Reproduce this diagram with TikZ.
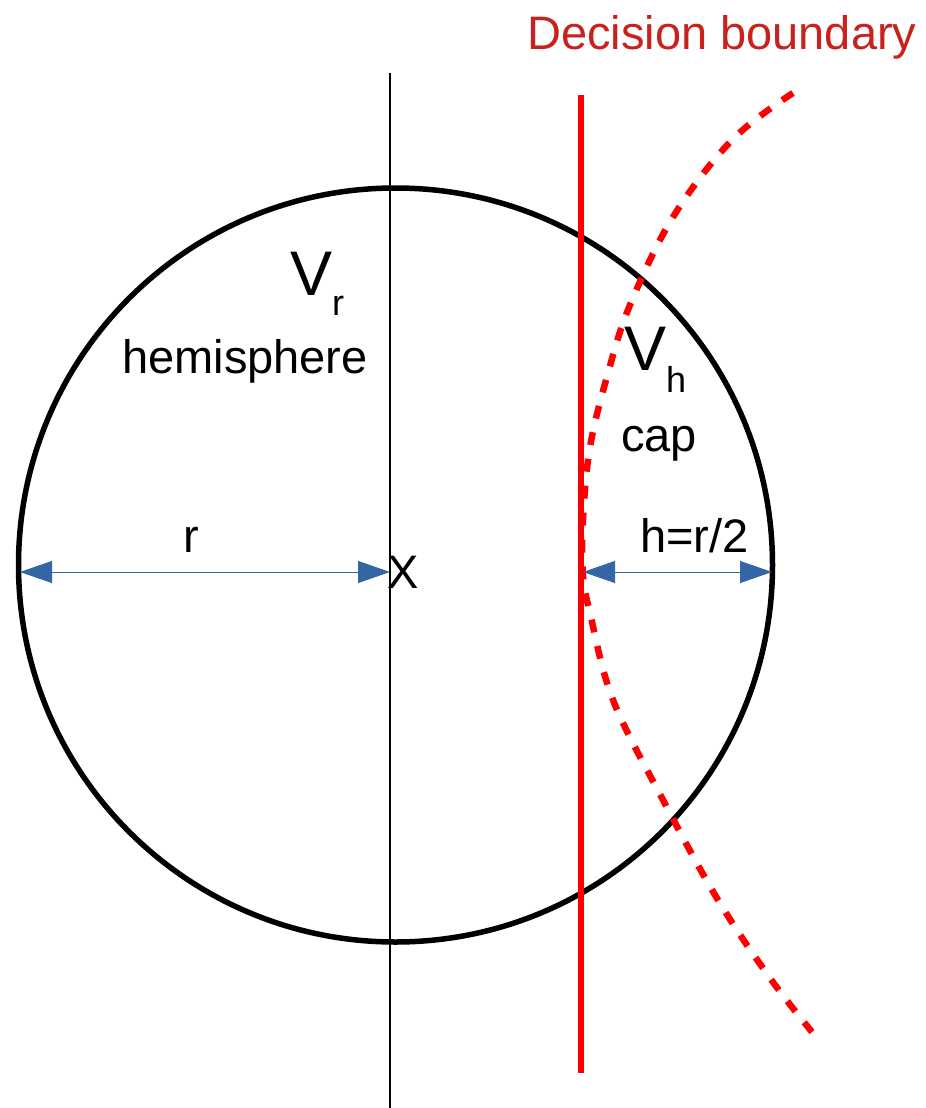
\documentclass[tikz,border=0pt]{standalone}
\usepackage{fontspec}
\setmainfont{Liberation Sans}
\usetikzlibrary{arrows.meta}
\definecolor{dred}{HTML}{C9211E}
\definecolor{lblue}{HTML}{3465A4}
\begin{document}
\begin{tikzpicture}[x=1pt,y=-1pt,
  lbl/.style={inner sep=0pt, anchor=base west, font=\fontsize{47}{56}\selectfont},
  dim/.style={draw=lblue, line width=1pt, {Triangle[length=32pt,width=22pt,fill=lblue]}-{Triangle[length=32pt,width=22pt,fill=lblue]}},
  bigv/.style={inner sep=0pt, anchor=base west, font=\fontsize{63}{70}\selectfont}]
\useasboundingbox (0,0) rectangle (926,1108);
% circle
\coordinate (O) at (395.5,565);
\draw[line width=5.5pt] (O) circle (377);
% vertical axis
\coordinate (axT) at (390,73);
\coordinate (axB) at (390,1108);
\draw[line width=1.6pt] (axT) -- (axB);
% decision boundary (straight)
\coordinate (dbT) at (581,95);
\coordinate (dbB) at (581,1073);
\draw[red, line width=6.5pt] (dbT) -- (dbB);
% curved boundary (dashed)
\draw[red, line width=6.5pt, dash pattern=on 13pt off 14pt]
  plot[smooth, tension=0.6] coordinates {(793,93) (732,140) (673,217) (630,305) (608,373) (590,447) (583,520) (583,575) (590,613) (613,700) (663,800) (718,900) (770,978) (812,1032)};
% dimension arrows
\coordinate (L) at (20,572);
\coordinate (Cx) at (390,572);
\coordinate (Hs) at (583,572);
\coordinate (R) at (772,572);
\draw[dim] (L) -- (Cx);
\draw[dim] (Hs) -- (R);
% labels
\node[lbl, text=dred] (title) at (527,49) {Decision boundary};
\node[bigv] (vr) at (290,295) {V\raisebox{-20pt}{\fontsize{36}{40}\selectfont r}};
\node[lbl] (hemi) at (122,373) {hemisphere};
\node[bigv] (vh) at (624,370) {V\raisebox{-22pt}{\fontsize{36}{40}\selectfont h}};
\node[lbl] (cap) at (621,451) {cap};
\node[lbl] (rl) at (183,552) {r};
\node[lbl] (xl) at (387,588) {X};
\node[lbl] (hl) at (640,552) {h=r/2};
\end{tikzpicture}
\end{document}
